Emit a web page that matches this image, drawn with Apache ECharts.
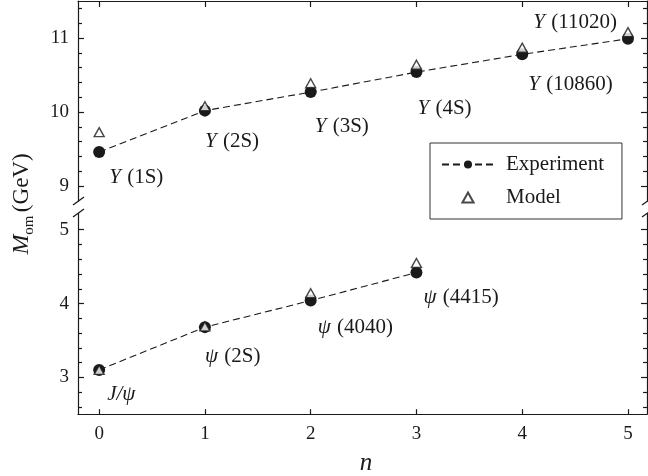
<!DOCTYPE html>
<html><head><meta charset="utf-8">
<script src="https://cdn.jsdelivr.net/npm/echarts@6/dist/echarts.min.js"></script>
<style>html,body{margin:0;padding:0;background:#fff}#c{width:648px;height:476px}</style>
</head><body><div id="c"></div><script>
// ---- data ----
const nValues = [0, 1, 2, 3, 4, 5];
const upsilonStates = ['(1S)', '(2S)', '(3S)', '(4S)', '(10860)', '(11020)'];
const upsilonExperiment = [9.46, 10.02, 10.27, 10.54, 10.78, 10.99];
const upsilonModel = [9.73, 10.08, 10.39, 10.64, 10.87, 11.08];
const psiStates = ['J/ψ', '(2S)', '(4040)', '(4415)'];
const psiExperiment = [3.10, 3.68, 4.04, 4.42];
const psiModel = [3.10, 3.69, 4.14, 4.55];
const upperTickLabels = [9, 10, 11];
const lowerTickLabels = [3, 4, 5];
const xTickLabels = [0, 1, 2, 3, 4, 5];

// ---- styles / layout ----
const FONT = '"Liberation Serif", "Times New Roman", serif';
const INK = '#1a1a1a';
const upsLabelPos = [[10, 25, 'left'], [0, 31, 'left'], [4, 34, 'left'], [1, 36, 'left'], [6, 30, 'left'], [-11, -16, 'right']];
const psiLabelPos = [[8, 25, 'left'], [0, 29, 'left'], [7, 27, 'left'], [7, 25, 'left']];

function minorTicks(lo, hi, majors) {
  const out = [];
  for (let k = Math.round(lo * 5); k <= Math.round(hi * 5); k++) {
    const v = +(k / 5).toFixed(1);
    if (!majors.includes(v)) out.push(v);
  }
  return out;
}
const upperMinor = minorTicks(9.2, 11.4, upperTickLabels);
const lowerMinor = minorTicks(2.6, 4.8, lowerTickLabels);

const richText = {
  i: { fontFamily: FONT, fontStyle: 'italic', fontSize: 21, color: INK },
  n: { fontFamily: FONT, fontSize: 21, color: INK, padding: [0, 0, 0, 3] }
};

function yAx(grid, min, max, pos, ticks, len, withLine, labels) {
  return {
    type: 'value', gridIndex: grid, min: min, max: max, position: pos,
    axisLine: { show: withLine, onZero: false, lineStyle: { color: INK, width: 1.2 } },
    axisTick: { show: true, inside: true, length: len, customValues: ticks, lineStyle: { color: INK, width: 1.2 } },
    axisLabel: labels ? { show: true, customValues: labels, fontFamily: FONT, fontSize: 19, color: INK, margin: 9 } : { show: false },
    splitLine: { show: false }
  };
}

function makeData(xs, ys, names, pos, psi) {
  return ys.map((y, i) => ({
    value: [xs[i], y],
    label: {
      show: true, position: 'inside', align: pos[i][2], verticalAlign: 'middle',
      offset: [pos[i][0], pos[i][1]],
      formatter: psi ? (i === 0 ? '{i|' + names[i] + '}' : '{i|ψ} {n|' + names[i] + '}') : '{i|Υ} {n|' + names[i] + '}',
      rich: richText
    }
  }));
}

const lineStyle = { color: INK, width: 1.1, type: [7, 4] };
const expItem = { color: INK };
const modelItem = { color: '#fff', borderColor: INK, borderWidth: 1.4 };

const chart = echarts.init(document.getElementById('c'));
chart.setOption({
  animation: false,
  backgroundColor: '#fff',
  grid: [
    { left: 78, width: 569, top: 1, height: 200 },
    { left: 78, width: 569, top: 213.5, height: 200.7 }
  ],
  xAxis: [
    { type: 'value', gridIndex: 0, min: -0.2, max: 5.18, position: 'top',
      axisLine: { onZero: false, lineStyle: { color: INK, width: 1.2 } },
      axisTick: { inside: true, length: 6, customValues: xTickLabels, lineStyle: { color: INK, width: 1.2 } },
      axisLabel: { show: false }, splitLine: { show: false } },
    { type: 'value', gridIndex: 1, min: -0.2, max: 5.18, position: 'bottom',
      axisLine: { onZero: false, lineStyle: { color: INK, width: 1.2 } },
      axisTick: { inside: true, length: 5, customValues: xTickLabels, lineStyle: { color: INK, width: 1.2 } },
      axisLabel: { customValues: xTickLabels, fontFamily: FONT, fontSize: 19, color: INK, margin: 10 },
      splitLine: { show: false } }
  ],
  yAxis: [
    yAx(0, 8.8, 11.5, 'left', upperTickLabels, 6, true, upperTickLabels),
    yAx(0, 8.8, 11.5, 'left', upperMinor, 4, false, null),
    yAx(0, 8.8, 11.5, 'right', upperTickLabels, 6, true, null),
    yAx(0, 8.8, 11.5, 'right', upperMinor, 4, false, null),
    yAx(1, 2.5, 5.22, 'left', lowerTickLabels, 6, true, lowerTickLabels),
    yAx(1, 2.5, 5.22, 'left', lowerMinor, 4, false, null),
    yAx(1, 2.5, 5.22, 'right', lowerTickLabels, 6, true, null),
    yAx(1, 2.5, 5.22, 'right', lowerMinor, 4, false, null)
  ],
  legend: {
    left: 430, top: 143, orient: 'vertical',
    data: [{ name: 'Experiment' }, { name: 'Model', icon: 'path://M5 0L10 9L0 9Z' }],
    symbolKeepAspect: true,
    borderColor: '#333', borderWidth: 1,
    padding: [11, 18, 11, 11], itemGap: 12,
    itemWidth: 52, itemHeight: 10,
    textStyle: { fontFamily: FONT, fontSize: 21, lineHeight: 21, color: INK, padding: [0, 0, 0, 7] }
  },
  series: [
    { name: 'Experiment', type: 'line', xAxisIndex: 0, yAxisIndex: 0, z: 3,
      symbol: 'circle', symbolSize: 12, lineStyle: lineStyle, itemStyle: expItem,
      data: makeData(nValues, upsilonExperiment, upsilonStates, upsLabelPos, false) },
    { name: 'Experiment', type: 'line', xAxisIndex: 1, yAxisIndex: 4, z: 3,
      symbol: 'circle', symbolSize: 12, lineStyle: lineStyle, itemStyle: expItem,
      data: makeData(nValues, psiExperiment, psiStates, psiLabelPos, true) },
    { name: 'Model', type: 'scatter', xAxisIndex: 0, yAxisIndex: 0, z: 4,
      symbol: 'triangle', symbolSize: [10, 9], itemStyle: modelItem,
      data: upsilonModel.map((y, i) => [nValues[i], y]) },
    { name: 'Model', type: 'scatter', xAxisIndex: 1, yAxisIndex: 4, z: 4,
      symbol: 'triangle', symbolSize: [10, 9], itemStyle: modelItem,
      data: psiModel.map((y, i) => [nValues[i], y]) }
  ],
  graphic: [
    { type: 'line', shape: { x1: 73, y1: 205, x2: 84, y2: 197 }, style: { stroke: INK, lineWidth: 1.2 } },
    { type: 'line', shape: { x1: 73, y1: 217, x2: 84, y2: 209 }, style: { stroke: INK, lineWidth: 1.2 } },
    { type: 'line', shape: { x1: 642, y1: 205, x2: 653, y2: 197 }, style: { stroke: INK, lineWidth: 1.2 } },
    { type: 'line', shape: { x1: 642, y1: 217, x2: 653, y2: 209 }, style: { stroke: INK, lineWidth: 1.2 } },
    { type: 'text', x: 22, y: 204, rotation: Math.PI / 2,
      style: {
        text: '{m|M}{s|om} {g|(GeV)}',
        align: 'center', verticalAlign: 'middle',
        rich: {
          m: { fontFamily: FONT, fontStyle: 'italic', fontSize: 24, lineHeight: 30, verticalAlign: 'middle', fill: INK },
          s: { fontFamily: FONT, fontSize: 15, lineHeight: 15, verticalAlign: 'bottom', fill: INK },
          g: { fontFamily: FONT, fontSize: 23, lineHeight: 30, verticalAlign: 'middle', fill: INK }
        }
      } },
    { type: 'text', x: 366, y: 463,
      style: { text: 'n', fontFamily: FONT, fontStyle: 'italic', fontSize: 25, fill: INK, align: 'center', verticalAlign: 'middle' } }
  ]
});
</script></body></html>
